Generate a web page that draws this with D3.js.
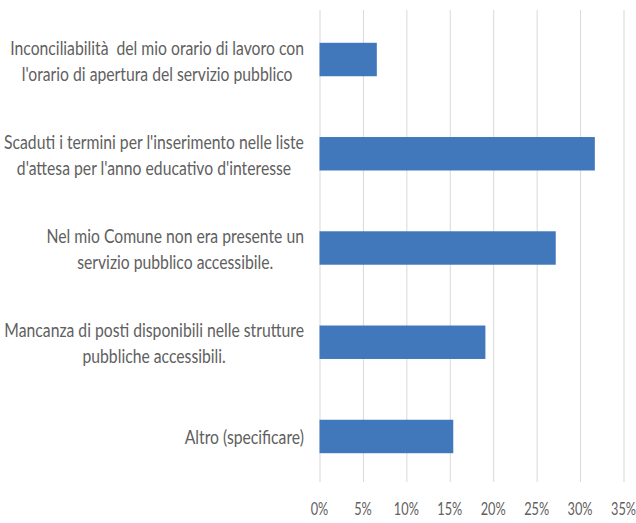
<!DOCTYPE html>
<html>
<head>
<meta charset="utf-8">
<script src="https://cdn.jsdelivr.net/npm/d3@7"></script>
<style>
  html, body { margin: 0; padding: 0; background: #ffffff; }
  svg { display: block; }
  svg text { white-space: pre; }
</style>
</head>
<body>
<svg id="chart" width="636" height="523"></svg>
<script>
// ---- data ----
const categories = [
  "Inconciliabilità  del mio orario di lavoro con l'orario di apertura del servizio pubblico",
  "Scaduti i termini per l'inserimento nelle liste d'attesa per l'anno educativo d'interesse",
  "Nel mio Comune non era presente un servizio pubblico accessibile.",
  "Mancanza di posti disponibili nelle strutture pubbliche accessibili.",
  "Altro (specificare)"
];
const categoryLines = [
  ["Inconciliabilità  del mio orario di lavoro con", "l'orario di apertura del servizio pubblico"],
  ["Scaduti i termini per l'inserimento nelle liste", "d'attesa per l'anno educativo d'interesse"],
  ["Nel mio Comune non era presente un", "servizio pubblico accessibile."],
  ["Mancanza di posti disponibili nelle strutture", "pubbliche accessibili."],
  ["Altro (specificare)"]
];
const values = [6.6, 31.7, 27.2, 19.1, 15.4];
const tickValues = [0, 5, 10, 15, 20, 25, 30, 35];
const tickLabels = ["0%", "5%", "10%", "15%", "20%", "25%", "30%", "35%"];

// ---- layout ----
const svg = d3.select("#chart");
const plotLeft = 319.5, plotRight = 623.5, plotTop = 10, plotBottom = 482;
const labelRight = 304;
const textColor = "#606060";
const barColor = "#4178BC";
const gridColor = "#D9D9D9";
const fontFamily = "Lato, 'Open Sans', sans-serif";

const x = d3.scaleLinear().domain([0, 35]).range([plotLeft, plotRight]);
const y = d3.scaleBand().domain(categories).range([12.4, 483.6])
  .paddingInner(0.645).paddingOuter(0.3225);

// gridlines via axis
const xAxis = d3.axisBottom(x)
  .tickValues(tickValues)
  .tickSize(-(plotBottom - plotTop))
  .tickFormat((d, i) => tickLabels[i]);

const gx = svg.append("g")
  .attr("transform", `translate(0,${plotBottom})`)
  .call(xAxis);
gx.select(".domain").remove();
gx.selectAll(".tick line").attr("stroke", gridColor).attr("stroke-width", 1);
gx.selectAll(".tick text").remove();

// tick labels (horizontally condensed, like the original)
const tickG = svg.append("g");
const tickTexts = tickG.selectAll("text")
  .data(tickValues)
  .join("text")
  .attr("font-family", fontFamily)
  .attr("font-size", 17)
  .attr("fill", textColor)
  .attr("text-anchor", "middle")
  .attr("dy", "0.35em")
  .text((d, i) => tickLabels[i]);
let refW = tickTexts.filter((d, i) => i === 2).node().getComputedTextLength();
const tickScale = 25 / refW;
tickTexts.attr("transform", d => `translate(${x(d)},${509}) scale(${tickScale},1)`);

// bars
svg.append("g").selectAll("rect")
  .data(values)
  .join("rect")
  .attr("x", x(0))
  .attr("y", (d, i) => y(categories[i]))
  .attr("width", d => x(d) - x(0))
  .attr("height", y.bandwidth())
  .attr("fill", barColor);

// category labels
const labelG = svg.append("g");
const fontSize = 20;
const lineGap = 26;
const probe = labelG.append("text")
  .attr("font-family", fontFamily).attr("font-size", fontSize)
  .text(categoryLines[1][0]);
const labelScale = 300 / probe.node().getComputedTextLength();
probe.remove();

categories.forEach((cat, i) => {
  const lines = categoryLines[i];
  const cy = y(cat) + y.bandwidth() / 2 + 1;
  const g = labelG.append("g");
  const texts = g.selectAll("text")
    .data(lines)
    .join("text")
    .attr("font-family", fontFamily)
    .attr("font-size", fontSize)
    .attr("fill", textColor)
    .attr("text-anchor", "middle")
    .attr("dy", "0.35em")
    .attr("y", (d, j) => (j - (lines.length - 1) / 2) * lineGap)
    .text(d => d);
  let maxW = 0;
  texts.each(function () { maxW = Math.max(maxW, this.getComputedTextLength()); });
  const blockW = maxW * labelScale;
  g.attr("transform", `translate(${labelRight - blockW / 2},${cy}) scale(${labelScale},1)`);
});
</script>
</body>
</html>
